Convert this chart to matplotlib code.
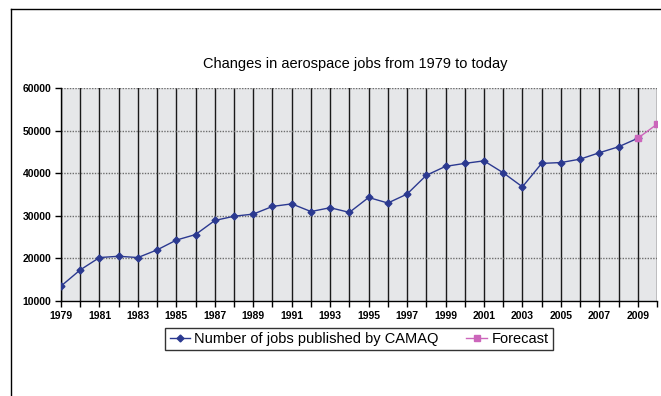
import matplotlib
matplotlib.use("Agg")
import matplotlib.pyplot as plt
from matplotlib.lines import Line2D

years = list(range(1979, 2010))
jobs = [13500, 17300, 20200, 20500, 20200, 22000, 24300, 25600, 28900, 29900,
        30400, 32200, 32800, 31000, 31900, 30800, 34300, 33000, 35100, 39500,
        41600, 42300, 42900, 40100, 36800, 42300, 42500, 43300, 44800, 46200,
        48200]
forecast_years = [2009, 2010]
forecast = [48200, 51500]
title = "Changes in aerospace jobs from 1979 to today"
series_labels = ["Number of jobs published by CAMAQ", "Forecast"]

plt.rcParams['font.family'] = ['Liberation Sans', 'DejaVu Sans']

fig = plt.figure(figsize=(6.61, 3.96), dpi=100)
ax = fig.add_axes([61/661, 1-301/396, (657-61)/661, (301-88)/396])
ax.set_facecolor('#e6e7e9')

ax.set_xlim(1979, 2010)
ax.set_ylim(10000, 60000)

# vertical grid lines at every year
for yr in range(1979, 2011):
    ax.axvline(yr, color='#1a1a1a', lw=1.0, zorder=1)
# horizontal dotted grid lines
for v in range(20000, 60001, 10000):
    ax.axhline(v, color='#6d6d6d', lw=1.0, ls=(0, (1, 1)), zorder=1)

ax.plot(years, jobs, color='#2b3990', lw=1.0, marker='D', ms=3.5,
        markerfacecolor='#2b3990', markeredgecolor='#2b3990', zorder=3,
        label=series_labels[0])
ax.plot(forecast_years, forecast, color='#cc66bb', lw=1.0, marker='s', ms=4,
        markerfacecolor='#cc66bb', markeredgecolor='#cc66bb', zorder=4,
        label=series_labels[1])

ax.set_xticks(range(1979, 2011))
ax.set_xticklabels([str(y) if (y - 1979) % 2 == 0 else '' for y in range(1979, 2011)])
ax.set_yticks(range(10000, 60001, 10000))
ax.set_yticklabels([str(v) for v in range(10000, 60001, 10000)])
ax.tick_params(axis='both', direction='out', length=4, width=1, color='black',
               labelsize=7.5, pad=3)
for lbl in ax.get_xticklabels() + ax.get_yticklabels():
    lbl.set_fontweight('bold')

for side in ['top', 'right']:
    ax.spines[side].set_visible(False)
ax.spines['left'].set_color('black')
ax.spines['bottom'].set_color('black')
ax.spines['left'].set_linewidth(1)
ax.spines['bottom'].set_linewidth(1)

fig.text(355/661, 1-64/396, title, ha='center', va='center', fontsize=10.5)

leg = fig.legend(loc='center', bbox_to_anchor=(359/661, 1-339/396), ncol=2,
                 fontsize=10.5, frameon=True, fancybox=False, edgecolor='black',
                 handlelength=1.4, handletextpad=0.3, columnspacing=1.9,
                 borderpad=0.3, borderaxespad=0)
leg.get_frame().set_linewidth(1.0)

# figure border lines (top and left)
fig.add_artist(Line2D([11/661, 11/661], [0, 1-9/396], transform=fig.transFigure,
                      color='black', lw=1))
fig.add_artist(Line2D([11/661, 1], [1-9/396, 1-9/396], transform=fig.transFigure,
                      color='black', lw=1))

fig.savefig('out.png', dpi=100)
